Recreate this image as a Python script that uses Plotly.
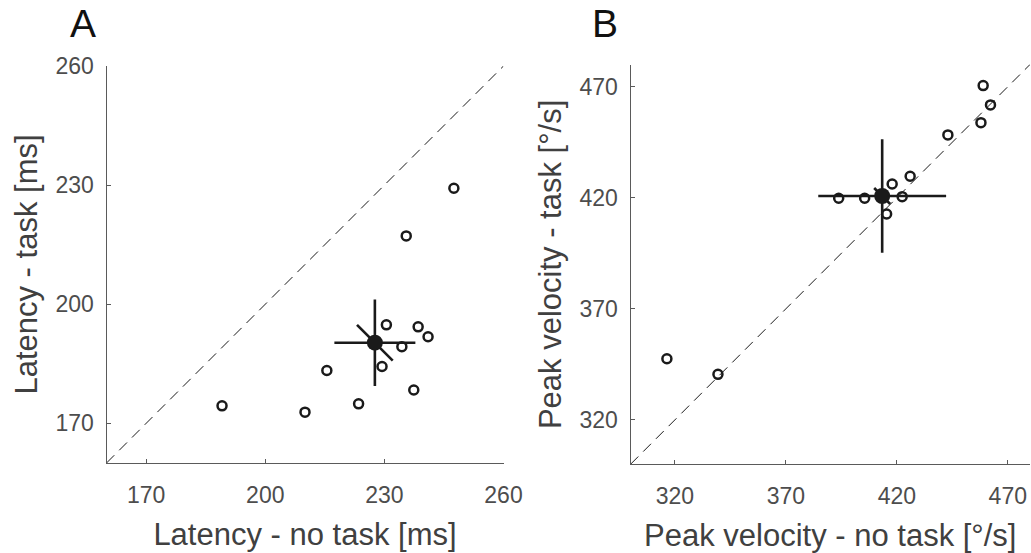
import plotly.graph_objects as go

# ---------------- Data ----------------
# Panel A: latency [ms]
lat_notask = [247.5, 235.5, 230.5, 238.5, 241.0, 234.4, 229.4, 215.5, 237.4, 223.5, 210.0, 189.1]
lat_task   = [229.2, 217.2, 194.8, 194.3, 191.8, 189.3, 184.3, 183.3, 178.4, 174.9, 172.8, 174.4]
lat_mean = [227.6, 190.3]        # (no task, task)
lat_sd = [10.2, 10.9]            # horizontal, vertical half-lengths
lat_perp = 4.5                   # half-length of bar orthogonal to unity line
lat_ticks = [170, 200, 230, 260]
lat_range = [160, 260]

# Panel B: peak velocity [deg/s]
vel_notask = [458.9, 462.2, 457.9, 443.0, 426.0, 417.9, 422.4, 415.4, 405.5, 393.8, 339.4, 316.4]
vel_task   = [470.5, 461.8, 453.8, 448.3, 429.7, 426.2, 420.5, 412.7, 419.8, 419.8, 340.5, 347.5]
vel_mean = [413.4, 420.8]
vel_sd = [28.8, 25.6]
vel_perp = 3.6
vel_ticks = [320, 370, 420, 470]
vel_range = [300, 480]

W, H = 1031, 553
FONT = "Liberation Sans, Arial, Helvetica, sans-serif"
INK = "#1a1a1a"
AXC = "#5a5a5a"

fig = go.Figure()


def add_panel(fig, xs, ys, mean, sd, perp, rng, xa, ya):
    # unity line
    fig.add_trace(go.Scatter(x=rng, y=rng, mode="lines", xaxis=xa, yaxis=ya,
                             line=dict(color=INK, width=1, dash="11px,7px"),
                             hoverinfo="skip", showlegend=False))
    # individual subjects
    fig.add_trace(go.Scatter(x=xs, y=ys, mode="markers", xaxis=xa, yaxis=ya,
                             marker=dict(symbol="circle-open", size=9, color=INK,
                                         line=dict(width=2.5, color=INK)),
                             showlegend=False))
    mx, my = mean
    # horizontal, vertical and orthogonal bars
    fig.add_trace(go.Scatter(x=[mx - sd[0], mx + sd[0]], y=[my, my], mode="lines",
                             xaxis=xa, yaxis=ya, line=dict(color=INK, width=2.6),
                             hoverinfo="skip", showlegend=False))
    fig.add_trace(go.Scatter(x=[mx, mx], y=[my - sd[1], my + sd[1]], mode="lines",
                             xaxis=xa, yaxis=ya, line=dict(color=INK, width=2.6),
                             hoverinfo="skip", showlegend=False))
    fig.add_trace(go.Scatter(x=[mx - perp, mx + perp], y=[my + perp, my - perp], mode="lines",
                             xaxis=xa, yaxis=ya, line=dict(color=INK, width=2.6),
                             hoverinfo="skip", showlegend=False))
    # group mean
    fig.add_trace(go.Scatter(x=[mx], y=[my], mode="markers", xaxis=xa, yaxis=ya,
                             marker=dict(symbol="circle", size=16, color=INK),
                             showlegend=False))


add_panel(fig, lat_notask, lat_task, lat_mean, lat_sd, lat_perp, lat_range, "x", "y")
add_panel(fig, vel_notask, vel_task, vel_mean, vel_sd, vel_perp, vel_range, "x2", "y2")


def axis(domain, rng, ticks, title, standoff, tstandoff, anchor):
    return dict(
        domain=domain, range=rng, tickvals=ticks, ticktext=[str(t) for t in ticks],
        showline=True, linecolor=AXC, linewidth=1, mirror=False,
        ticks="inside", ticklen=4, tickwidth=1, tickcolor=AXC,
        showgrid=False, zeroline=False, anchor=anchor, automargin=False,
        tickfont=dict(family=FONT, size=23, color="#4d4d4d"),
        ticklabelstandoff=standoff,
        title=dict(text=title, font=dict(family=FONT, size=31, color="#404040"), standoff=tstandoff),
        fixedrange=True,
    )


fig.update_layout(
    width=W, height=H,
    margin=dict(l=0, r=0, t=0, b=0),
    paper_bgcolor="white", plot_bgcolor="white",
    showlegend=False,
    xaxis=axis([106.5 / W, 503.5 / W], lat_range, lat_ticks, "Latency - no task [ms]", 11, 16, "y"),
    yaxis=axis([1 - 463 / H, 1 - 66 / H], lat_range, lat_ticks, "Latency - task [ms]", 7, 8, "x"),
    xaxis2=axis([630.5 / W, 1030 / W], vel_range, vel_ticks, "Peak velocity - no task [°/s]", 11, 16, "y2"),
    yaxis2=axis([1 - 464.3 / H, 1 - 64.5 / H], vel_range, vel_ticks, "Peak velocity - task [°/s]", 7, 8, "x2"),
    annotations=[
        dict(text="A", x=83 / W, y=1 - 24 / H, xref="paper", yref="paper",
             showarrow=False, xanchor="center", yanchor="middle",
             font=dict(family=FONT, size=39, color="#111111")),
        dict(text="B", x=605 / W, y=1 - 24 / H, xref="paper", yref="paper",
             showarrow=False, xanchor="center", yanchor="middle",
             font=dict(family=FONT, size=39, color="#111111")),
    ],
)

fig.write_html("out.html", config={"displayModeBar": False},
               post_script="document.body.style.margin='0';document.body.style.overflow='hidden';")
